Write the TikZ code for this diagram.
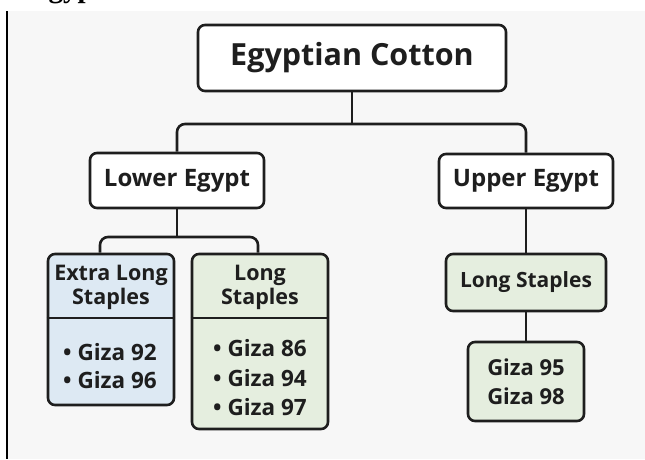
\documentclass[tikz,border=0pt]{standalone}
\usepackage{fontspec}
\usepackage{tikz}
\setmainfont{Open Sans}
\newfontfamily\capfont{Liberation Serif}
\definecolor{lineColor}{HTML}{1E1E1E}
\definecolor{bgColor}{HTML}{F7F7F7}
\definecolor{blueFill}{HTML}{DDE9F3}
\definecolor{greenFill}{HTML}{E5EEDF}

\begin{document}
\begin{tikzpicture}[x=1pt,y=-1pt,
box/.style={shape=rectangle,rounded corners=7pt,draw={lineColor},line width=2.6pt,fill=white,
    inner sep=0,align=center,text={lineColor}},
blueBox/.style={box,fill={blueFill}},
greenBox/.style={box,fill={greenFill}},
label/.style={inner sep=0,align=center,text={lineColor}},
myedge/.style={line width=2.6pt,draw={lineColor},rounded corners=8pt}
]
\useasboundingbox (0,0) rectangle (645,459);
\fill[bgColor] (8,11) rectangle (645,459);
\draw[line width=2.4pt] (7,11) -- (7,459);
\node[anchor=base west,inner sep=0,font=\capfont\bfseries\fontsize{29}{29}\selectfont] (caption) at (29,-3) {Egyptian Cotton};

\node[box,minimum width=308pt,minimum height=66pt,font=\bfseries\fontsize{30.5}{36}\selectfont] (cotton) at (352,58) {Egyptian Cotton};
\node[box,minimum width=174pt,minimum height=55pt,font=\bfseries\fontsize{24}{28}\selectfont] (lower) at (177,180.5) {Lower Egypt};
\node[box,minimum width=174pt,minimum height=54pt,font=\bfseries\fontsize{24}{28}\selectfont] (upper) at (526,181) {Upper Egypt};
\node[blueBox,minimum width=126pt,minimum height=151pt] (extra) at (111,329.5) {};
\node[greenBox,minimum width=136pt,minimum height=175pt] (long) at (260,341.5) {};
\node[greenBox,minimum width=160pt,minimum height=57pt,font=\bfseries\fontsize{21}{25}\selectfont] (upLong) at (526,282.5) {Long Staples};
\node[greenBox,minimum width=116pt,minimum height=79pt,font=\bfseries\fontsize{22}{29}\selectfont] (upGiza) at (526,381.5) {Giza 95\\Giza 98};

% split boxes
\draw[line width=2.4pt,lineColor] ([yshift=-65pt]extra.north west) -- ([yshift=-65pt]extra.north east);
\draw[line width=2.4pt,lineColor] ([yshift=-65pt]long.north west) -- ([yshift=-65pt]long.north east);
\node[label,font=\bfseries\fontsize{21.5}{24}\selectfont] (extraHead) at (111,287) {Extra Long\\Staples};
\node[label,font=\bfseries\fontsize{21.5}{24}\selectfont] (longHead) at (260,287) {Long\\Staples};
\node[label,align=left,font=\bfseries\fontsize{22.5}{28.5}\selectfont] (extraList) at (110,366) {\textbullet\ Giza 92\\\textbullet\ Giza 96};
\node[label,align=left,font=\bfseries\fontsize{22.5}{29.5}\selectfont] (longList) at (260,378) {\textbullet\ Giza 86\\\textbullet\ Giza 94\\\textbullet\ Giza 97};

\coordinate (topSplit) at (352,124);
\coordinate (lowSplit) at (177,237);
\draw[myedge] (cotton.south) -- (topSplit);
\draw[myedge] (lower.north) |- (topSplit) -| (upper.north);
\draw[myedge] (lower.south) -- (lowSplit);
\draw[myedge] ([xshift=-11pt]extra.north) |- (lowSplit) -| ([xshift=-2pt]long.north);
\draw[myedge] (upper.south) -- (upLong.north);
\draw[myedge] (upLong.south) -- (upGiza.north);
\end{tikzpicture}
\end{document}
